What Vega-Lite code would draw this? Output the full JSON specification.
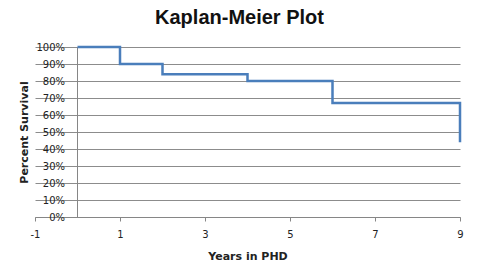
{
  "$schema": "https://vega.github.io/schema/vega-lite/v6.json",
  "width": 425,
  "height": 170,
  "autosize": {"type": "none"},
  "padding": {"left": 35, "top": 47, "right": 20, "bottom": 53},
  "background": "white",
  "title": {
    "text": "Kaplan-Meier Plot",
    "font": "Liberation Sans",
    "fontSize": 20,
    "fontWeight": "bold",
    "color": "#111111",
    "anchor": "middle",
    "dx": -8,
    "offset": 14
  },
  "config": {
    "view": {"stroke": null},
    "axis": {
      "labelFont": "DejaVu Sans",
      "labelFontSize": 10,
      "labelColor": "#222222",
      "titleFont": "DejaVu Sans",
      "titleFontSize": 11,
      "titleFontWeight": "bold",
      "titleColor": "#222222",
      "domainColor": "#868686",
      "tickColor": "#868686",
      "gridColor": "#8c8c8c"
    }
  },
  "data": {
    "values": [
      {"order": 1, "years": 0, "survival": 1.0},
      {"order": 2, "years": 1, "survival": 0.9},
      {"order": 3, "years": 2, "survival": 0.84},
      {"order": 4, "years": 4, "survival": 0.8},
      {"order": 5, "years": 6, "survival": 0.67},
      {"order": 6, "years": 9, "survival": 0.67},
      {"order": 7, "years": 9, "survival": 0.44}
    ]
  },
  "layer": [
    {
      "mark": {"type": "rule", "color": "#868686", "strokeWidth": 1},
      "encoding": {
        "x": {"datum": 0, "type": "quantitative"}
      }
    },
    {
      "mark": {"type": "line", "interpolate": "step-after", "color": "#4a7ebb", "strokeWidth": 2.5},
      "encoding": {
        "x": {
          "field": "years",
          "type": "quantitative",
          "scale": {"domain": [-1, 9], "nice": false, "zero": false},
          "axis": {
            "title": "Years in PHD",
            "values": [-1, 1, 3, 5, 7, 9],
            "labelExpr": "'' + datum.value",
            "grid": false,
            "tickSize": 4,
            "labelPadding": 8,
            "titlePadding": 11,
            "labelFlush": false
          }
        },
        "y": {
          "field": "survival",
          "type": "quantitative",
          "scale": {"domain": [0, 1], "nice": false},
          "axis": {
            "title": "Percent Survival",
            "format": ".0%",
            "values": [0, 0.1, 0.2, 0.3, 0.4, 0.5, 0.6, 0.7, 0.8, 0.9, 1.0],
            "offset": -42.5,
            "ticks": false,
            "domain": false,
            "labelPadding": 13,
            "titlePadding": 6,
            "grid": true,
            "labelFlush": false
          }
        },
        "order": {"field": "order"}
      }
    }
  ]
}
